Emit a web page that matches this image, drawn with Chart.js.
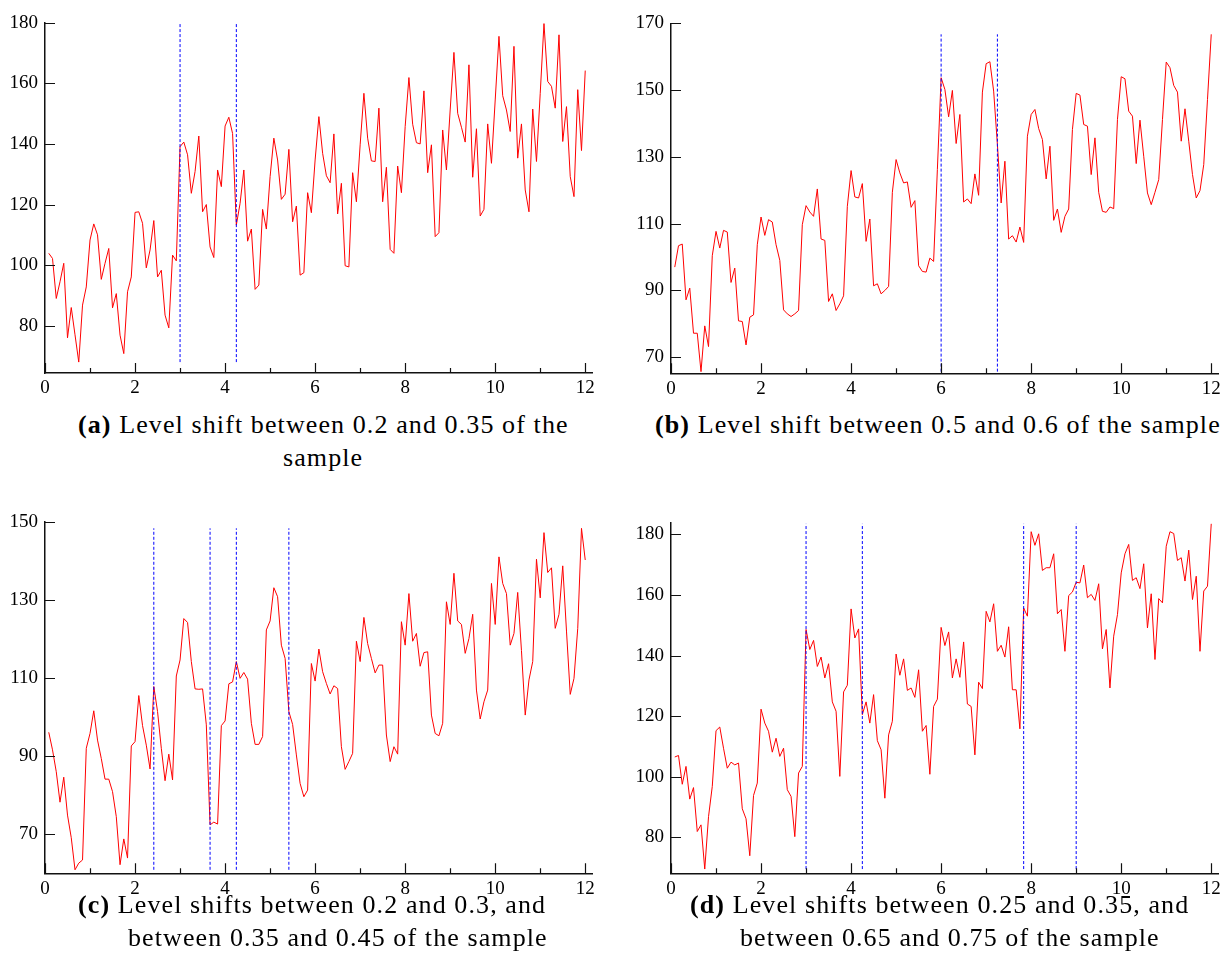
<!DOCTYPE html>
<html>
<head>
<meta charset="utf-8">
<script src="https://cdn.jsdelivr.net/npm/chart.js@4.4.0/dist/chart.umd.min.js"></script>
<style>
  body { margin: 0; background: #fff; width: 1230px; height: 970px; position: relative; overflow: hidden; font-family: "Liberation Serif", serif; }
  .panel { position: absolute; }
  .cap { position: absolute; font-size: 26px; line-height: 28px; letter-spacing: 1.1px; white-space: nowrap; color: #000; }
</style>
</head>
<body>
<div class="panel" style="left:0;top:0"><canvas id="chartA" width="615" height="400"></canvas></div>
<div class="panel" style="left:615px;top:0"><canvas id="chartB" width="615" height="400"></canvas></div>
<div class="panel" style="left:0;top:500px"><canvas id="chartC" width="615" height="400"></canvas></div>
<div class="panel" style="left:615px;top:500px"><canvas id="chartD" width="615" height="400"></canvas></div>

<div class="cap" style="left:78px;top:411px"><b>(a)</b> Level shift between 0.2 and 0.35 of the</div>
<div class="cap" style="left:283px;top:444px">sample</div>
<div class="cap" style="left:655px;top:411px"><b>(b)</b> Level shift between 0.5 and 0.6 of the sample</div>
<div class="cap" style="left:78px;top:891px"><b>(c)</b> Level shifts between 0.2 and 0.3, and</div>
<div class="cap" style="left:128px;top:924px">between 0.35 and 0.45 of the sample</div>
<div class="cap" style="left:690px;top:891px"><b>(d)</b> Level shifts between 0.25 and 0.35, and</div>
<div class="cap" style="left:740px;top:924px">between 0.65 and 0.75 of the sample</div>

<script>
// monthly observations, 12 per unit on the x axis
const seriesA = [
  103.9, 102.2, 89, 94.5, 100.6, 76, 86, 77, 68, 86.8, 92.8, 108.3,
  113.6, 110, 95.3, 100.6, 105.5, 85.9, 90.6, 76.9, 70.8, 91.2, 96.1, 117.4,
  117.6, 113.8, 99.1, 105, 114.7, 96.1, 98.3, 83.5, 79.3, 103.3, 101.4, 139.1,
  140.6, 136.4, 123.7, 130.9, 142.6, 117.6, 120, 106, 102.5, 131.4, 125.9, 145.9,
  148.8, 143.4, 113.2, 120.4, 131.4, 107.9, 111.9, 92, 93.4, 118.4, 111.9, 129.2,
  141.9, 134.7, 121.7, 123.4, 138.2, 114.3, 119.5, 96.7, 97.5, 123.9, 117.3, 134.7,
  149, 136.9, 129.5, 127.2, 143.3, 116.9, 127, 99.8, 99.4, 130.5, 120.9, 139.7,
  156.7, 141.9, 134.4, 134.2, 151.8, 120.9, 132.3, 105.2, 103.9, 132.7, 123.9, 145.7,
  161.9, 146.5, 140.4, 140, 157.5, 130.5, 139.7, 109.4, 110.7, 144.6, 131.4, 151.2,
  170.2, 150.1, 145.5, 140.6, 166.1, 129, 145, 116.2, 118.4, 146.6, 133.6, 154.5,
  175.5, 155.9, 151.2, 144.1, 172.2, 135.3, 146.6, 124.8, 117.6, 151.5, 134.2, 156.7,
  179.7, 160.6, 159, 151.8, 176, 140.8, 152.3, 129.2, 122.6, 157.9, 137.8, 164.2
];
const seriesB = [
  97, 103.4, 103.9, 87.2, 90.7, 77.2, 77.2, 65.7, 79.4, 73.2, 100.4, 107.7,
  102.7, 108, 107.5, 92.4, 96.7, 80.9, 80.7, 73.7, 82, 82.7, 103.7, 112,
  106.5, 111.2, 110.5, 103.7, 99, 84.2, 83, 82.2, 83, 84, 109.7, 115.4,
  113.5, 112.2, 120.4, 105.4, 105, 86.7, 89, 84, 86, 88.4, 115.2, 125.9,
  118, 117.7, 122, 104.7, 111.4, 91.4, 92, 89, 90, 91.2, 119.4, 129.2,
  125.2, 122.2, 122.5, 114.9, 116.9, 97.4, 95.7, 95.5, 99.7, 98.7, 126.2, 153.7,
  150.2, 142, 149.9, 134, 142.7, 116.5, 117.4, 116, 124.9, 118.5, 149.4, 157.9,
  158.5, 149.7, 133.7, 116.2, 128.7, 105.4, 106.4, 104.5, 109, 104.4, 136.2, 142.7,
  144.2, 138.5, 135.2, 123.4, 133.2, 111, 114.4, 107.4, 112.2, 114.4, 138.2, 149,
  148.5, 139.7, 139.2, 124.7, 135.7, 119.4, 113.7, 113.4, 115, 114.5, 141.2, 154,
  153.4, 143.7, 142.2, 128, 141, 130.2, 119.2, 115.7, 119.4, 123.2, 141.2, 158.4,
  156.7, 151.4, 149.4, 134.7, 144.4, 134.7, 124.7, 117.7, 119.9, 127.7, 147.2, 166.7
];
const seriesC = [
  96.1, 91.6, 86, 78.2, 84.6, 74.9, 69.1, 60.9, 62.6, 63.4, 92, 95.8,
  101.6, 94.1, 89.4, 84.1, 84.1, 80.9, 74.5, 62.2, 68.8, 63.9, 92.6, 93.7,
  105.5, 97.8, 92.8, 86.7, 107.8, 101.4, 92, 83.7, 90.5, 83.9, 110.5, 114.6,
  125.2, 124.2, 114.2, 107.2, 107.1, 107.2, 98, 72.4, 73.1, 72.6, 97.8, 99,
  108.5, 109, 114.2, 109.9, 111.4, 109.7, 98.4, 93, 93, 95, 122.3, 124.6,
  133.1, 130.8, 118.4, 115, 101.4, 98.1, 90.3, 83, 79.6, 81.3, 113.7, 109.2,
  117.4, 111.6, 108.6, 105.9, 108, 107.3, 92.4, 86.6, 88.6, 90.7, 119.4, 114.2,
  125.5, 118.8, 115, 111.3, 113.3, 113.3, 95.4, 88.6, 92.4, 90.5, 124.4, 118.4,
  131.6, 119.4, 121.4, 113, 116.5, 116.7, 100.5, 95.8, 95.2, 98.4, 129.5, 123.7,
  136.8, 124.6, 123.7, 116.3, 120.1, 126.3, 106.9, 99.5, 103.9, 106.9, 134.2, 123.7,
  141, 134.2, 131.6, 118.4, 121.4, 131.9, 117, 100.5, 109.5, 114.2, 140.4, 130.5,
  147.2, 137, 138.2, 122.7, 126.3, 138.7, 122, 105.8, 109.9, 122.7, 148.3, 140.2
];
const seriesD = [
  106.5, 107, 97.5, 103.4, 92.6, 96.4, 81.9, 84.1, 69.5, 86.8, 96.8, 115.2,
  116.4, 109.4, 102.8, 104.8, 103.9, 104.5, 89.4, 86.1, 73.9, 93.8, 97.9, 122.3,
  117.7, 115, 108.1, 112.7, 106.7, 109.4, 95.7, 93.5, 80.2, 101.2, 103.4, 148.6,
  142, 145, 136.4, 139.5, 132.6, 137.3, 124.7, 121.6, 100.1, 128, 130.2, 155.4,
  145.8, 148.8, 120.5, 124.7, 117.7, 127.1, 111.9, 108.9, 92.9, 113.8, 118.3, 140.5,
  133.5, 138.9, 128.5, 129.3, 126.2, 135.3, 115, 116.9, 100.8, 123.2, 125.6, 149.3,
  143.3, 147.8, 132.6, 138.9, 132.8, 144.5, 124, 123.2, 107.2, 131.2, 129.1, 154.6,
  151.1, 157.1, 141.4, 143.4, 139.5, 149.5, 128.7, 128.7, 115.8, 155.7, 153, 180.9,
  176.4, 180.2, 168.1, 169, 169, 173.6, 153.8, 155.2, 141.4, 159.8, 161, 164.2,
  164, 169.9, 159.1, 160.2, 158.2, 163.7, 142.2, 148.6, 129.3, 146.4, 153.5, 167.3,
  173.6, 176.7, 164.8, 165.7, 162.1, 170.3, 149.1, 160.4, 138.7, 158.8, 157.4, 176.1,
  180.9, 180.3, 171.4, 172.3, 164.6, 174.8, 158.5, 166.2, 141.4, 161.3, 162.9, 183.5
];

// positions of the dashed level-shift markers
const shiftsA = [3, 4.25];
const shiftsB = [6, 7.25];
const shiftsC = [29 / 12, 44 / 12, 51 / 12, 65 / 12];
const shiftsD = [3, 4.25, 94 / 12, 9];

// tick labels
const xTicks = [0, 1, 2, 3, 4, 5, 6, 7, 8, 9, 10, 11, 12];
const yTicksA = [80, 100, 120, 140, 160, 180];
const yTicksB = [70, 90, 110, 130, 150, 170];
const yTicksC = [70, 90, 110, 130, 150];
const yTicksD = [80, 100, 120, 140, 160, 180];

const tickFont = { family: 'Liberation Serif', size: 19 };

// draws the tick marks on the inside of the axes
const inwardTicks = {
    id: 'inwardTicks',
    afterDraw(chart) {
        const { ctx, chartArea, scales } = chart;
        ctx.save();
        ctx.strokeStyle = '#111';
        ctx.lineWidth = 1.2;
        ctx.beginPath();
        scales.x.ticks.forEach(t => {
            const px = Math.round(scales.x.getPixelForValue(t.value)) + 0.5;
            const len = t.value % 2 === 0 ? 10 : 5;
            ctx.moveTo(px, chartArea.bottom);
            ctx.lineTo(px, chartArea.bottom - len);
        });
        scales.y.ticks.forEach(t => {
            const py = Math.round(scales.y.getPixelForValue(t.value)) + 0.5;
            ctx.moveTo(chartArea.left, py);
            ctx.lineTo(chartArea.left + 10, py);
        });
        ctx.stroke();
        ctx.restore();
    }
};

function makeChart(id, values, shifts, yMin, yMax, yTicks, yWidth, padTop, padRight, xHeight) {
    const lo = Math.min(...values);
    const hi = Math.max(...values);
    const datasets = [{
        data: values.map((v, i) => ({ x: (i + 1) / 12, y: v })),
        borderColor: '#ff0000',
        borderWidth: 1,
        pointRadius: 0,
        tension: 0,
        order: 2
    }];
    shifts.forEach(s => {
        datasets.push({
            data: [{ x: s, y: lo }, { x: s, y: hi }],
            borderColor: '#0000ff',
            borderWidth: 1,
            borderDash: [3, 2],
            pointRadius: 0,
            order: 1
        });
    });

    new Chart(document.getElementById(id), {
        type: 'line',
        data: { datasets },
        options: {
            responsive: false,
            animation: false,
            layout: { padding: { top: padTop, right: padRight, left: 0, bottom: 0 } },
            plugins: { legend: { display: false }, tooltip: { enabled: false } },
            scales: {
                x: {
                    type: 'linear',
                    min: 0,
                    max: 12.15,
                    afterBuildTicks: scale => { scale.ticks = xTicks.map(v => ({ value: v })); },
                    afterFit: scale => { scale.height = xHeight; },
                    grid: { display: false, drawTicks: false },
                    border: { display: true, color: '#111', width: 1.5 },
                    ticks: {
                        autoSkip: false,
                        maxRotation: 0,
                        padding: 4,
                        color: '#000',
                        font: tickFont,
                        callback: v => (v % 2 === 0 ? v : '')
                    }
                },
                y: {
                    min: yMin,
                    max: yMax,
                    afterBuildTicks: scale => { scale.ticks = yTicks.map(v => ({ value: v })); },
                    afterFit: scale => { scale.width = yWidth; },
                    grid: { display: false, drawTicks: false },
                    border: { display: true, color: '#111', width: 1.5 },
                    ticks: { padding: 7, color: '#000', font: tickFont }
                }
            }
        },
        plugins: [inwardTicks]
    });
}

makeChart('chartA', seriesA, shiftsA, 64.4, 180, yTicksA, 45, 22.7, 23, 27);
makeChart('chartB', seriesB, shiftsB, 65.2, 170, yTicksB, 56, 23.3, 12, 26.7);
makeChart('chartC', seriesC, shiftsC, 60, 150, yTicksC, 45, 21.7, 23, 26.7);
makeChart('chartD', seriesD, shiftsD, 68.1, 184, yTicksD, 56, 22.3, 12, 26.7);
</script>
</body>
</html>
